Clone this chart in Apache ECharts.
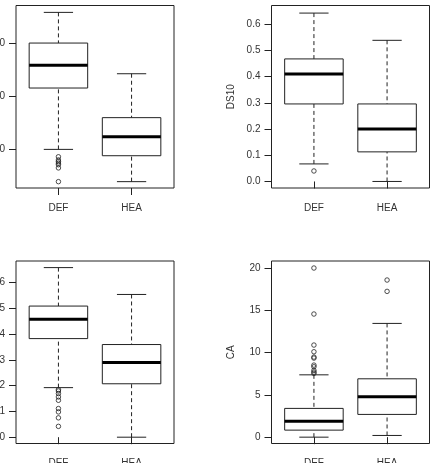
<!DOCTYPE html>
<html>
<head>
<meta charset="utf-8">
<script src="https://cdn.jsdelivr.net/npm/echarts@6/dist/echarts.min.js"></script>
<style>
  html, body { margin: 0; padding: 0; background: #fff; }
  #main { width: 435px; height: 463px; }
</style>
</head>
<body>
<div id="main"></div>
<script>
// groups on every x axis
const groups = ['DEF', 'HEA'];

// five-number summaries [lower whisker, Q1, median, Q3, upper whisker] per group
const panelAStats = [[9.9, 21.5, 25.8, 30.0, 35.8], [3.8, 8.7, 12.3, 15.9, 24.2]];
const panelAOutliers = [[8.5, 7.9, 7.6, 7.3, 7.0, 6.4, 3.8], []];
const panelATicks = [10, 20, 30];

const ds10Stats = [[0.067, 0.296, 0.41, 0.468, 0.643], [0.0, 0.113, 0.2, 0.296, 0.539]];
const ds10Outliers = [[0.04], []];
const ds10Ticks = [0, 0.1, 0.2, 0.3, 0.4, 0.5, 0.6];

const panelCStats = [[1.92, 3.82, 4.57, 5.08, 6.57], [0.0, 2.07, 2.89, 3.59, 5.53]];
const panelCOutliers = [[1.84, 1.79, 1.69, 1.56, 1.43, 1.11, 0.98, 0.75, 0.42], []];
const panelCTicks = [0, 1, 2, 3, 4, 5, 6];

const caStats = [[0.0, 0.83, 1.89, 3.4, 7.37], [0.2, 2.69, 4.77, 6.9, 13.45]];
const caOutliers = [[20.0, 14.56, 10.89, 10.1, 9.47, 9.35, 8.52, 8.32, 7.89, 7.69, 7.54], [18.58, 17.24]];
const caTicks = [0, 5, 10, 15, 20];

const ink = '#222';
const textColor = '#333';
const font = 'Liberation Sans, Arial, sans-serif';

const panels = [
    { stats: panelAStats, outliers: panelAOutliers, ticks: panelATicks, min: 2.6, max: 37.1, name: '',
      grid: { left: 16, top: 5.5, width: 158, height: 182.5 } },
    { stats: ds10Stats, outliers: ds10Outliers, ticks: ds10Ticks, min: -0.025, max: 0.672, name: 'DS10',
      grid: { left: 271.5, top: 5.5, width: 158, height: 182.5 } },
    { stats: panelCStats, outliers: panelCOutliers, ticks: panelCTicks, min: -0.244, max: 6.826, name: '',
      grid: { left: 16, top: 261, width: 158, height: 182.5 } },
    { stats: caStats, outliers: caOutliers, ticks: caTicks, min: -0.75, max: 20.83, name: 'CA',
      grid: { left: 271.5, top: 261, width: 158, height: 182.5 } }
];

function renderBox(params, api) {
    const x = api.value(0);
    const lo = api.coord([x, api.value(1)]);
    const q1 = api.coord([x, api.value(2)]);
    const md = api.coord([x, api.value(3)]);
    const q3 = api.coord([x, api.value(4)]);
    const hi = api.coord([x, api.value(5)]);
    const half = api.size([0.4, 0])[0];
    const cap = half / 2;
    const solid = { stroke: ink, lineWidth: 1, fill: null };
    const dashed = { stroke: ink, lineWidth: 1, lineDash: [4, 3] };
    return {
        type: 'group',
        children: [
            { type: 'line', shape: { x1: hi[0], y1: hi[1], x2: q3[0], y2: q3[1] }, style: dashed },
            { type: 'line', shape: { x1: lo[0], y1: lo[1], x2: q1[0], y2: q1[1] }, style: dashed },
            { type: 'line', shape: { x1: hi[0] - cap, y1: hi[1], x2: hi[0] + cap, y2: hi[1] }, style: solid },
            { type: 'line', shape: { x1: lo[0] - cap, y1: lo[1], x2: lo[0] + cap, y2: lo[1] }, style: solid },
            { type: 'rect', shape: { x: q3[0] - half, y: q3[1], width: half * 2, height: q1[1] - q3[1] },
              style: { stroke: ink, lineWidth: 1, fill: '#fff' } },
            { type: 'line', shape: { x1: md[0] - half, y1: md[1], x2: md[0] + half, y2: md[1] },
              style: { stroke: '#000', lineWidth: 3 } }
        ]
    };
}

let option = {
    animation: false,
    grid: [],
    xAxis: [],
    yAxis: [],
    series: []
};

panels.forEach(function (p, i) {
    option.grid.push(Object.assign({
        show: true, borderColor: ink, borderWidth: 1, backgroundColor: 'transparent',
        containLabel: false, outerBoundsMode: 'none'
    }, p.grid));
    option.xAxis.push({
        type: 'value', gridIndex: i, min: 0.42, max: 2.58,
        axisLine: { show: false },
        splitLine: { show: false },
        axisTick: { show: true, length: 7, lineStyle: { color: ink }, customValues: [1, 2] },
        axisLabel: {
            customValues: [1, 2], margin: 15, color: textColor, fontSize: 10, fontFamily: font,
            formatter(v) { return groups[Math.round(v) - 1]; }
        }
    });
    option.yAxis.push({
        type: 'value', gridIndex: i, min: p.min, max: p.max,
        name: p.name, nameLocation: 'middle', nameGap: 35,
        nameTextStyle: { color: textColor, fontSize: 10, fontFamily: font },
        axisLine: { show: false },
        splitLine: { show: false },
        axisTick: { show: true, length: 7, lineStyle: { color: ink }, customValues: p.ticks },
        axisLabel: {
            customValues: p.ticks, margin: 11, color: textColor, fontSize: 10, fontFamily: font,
            formatter(v) { return p.max < 1 ? v.toFixed(1) : String(v); }
        }
    });
    option.series.push({
        type: 'custom', xAxisIndex: i, yAxisIndex: i,
        renderItem: renderBox,
        encode: { x: 0, y: [1, 2, 3, 4, 5] },
        data: p.stats.map(function (s, g) { return [g + 1].concat(s); })
    });
    let pts = [];
    p.outliers.forEach(function (vals, g) {
        vals.forEach(function (v) { pts.push([g + 1, v]); });
    });
    option.series.push({
        type: 'scatter', xAxisIndex: i, yAxisIndex: i,
        symbol: 'circle', symbolSize: 4.5,
        itemStyle: { color: 'transparent', borderColor: ink, borderWidth: 1 },
        data: pts
    });
});

const chart = echarts.init(document.getElementById('main'));
chart.setOption(option);
</script>
</body>
</html>
